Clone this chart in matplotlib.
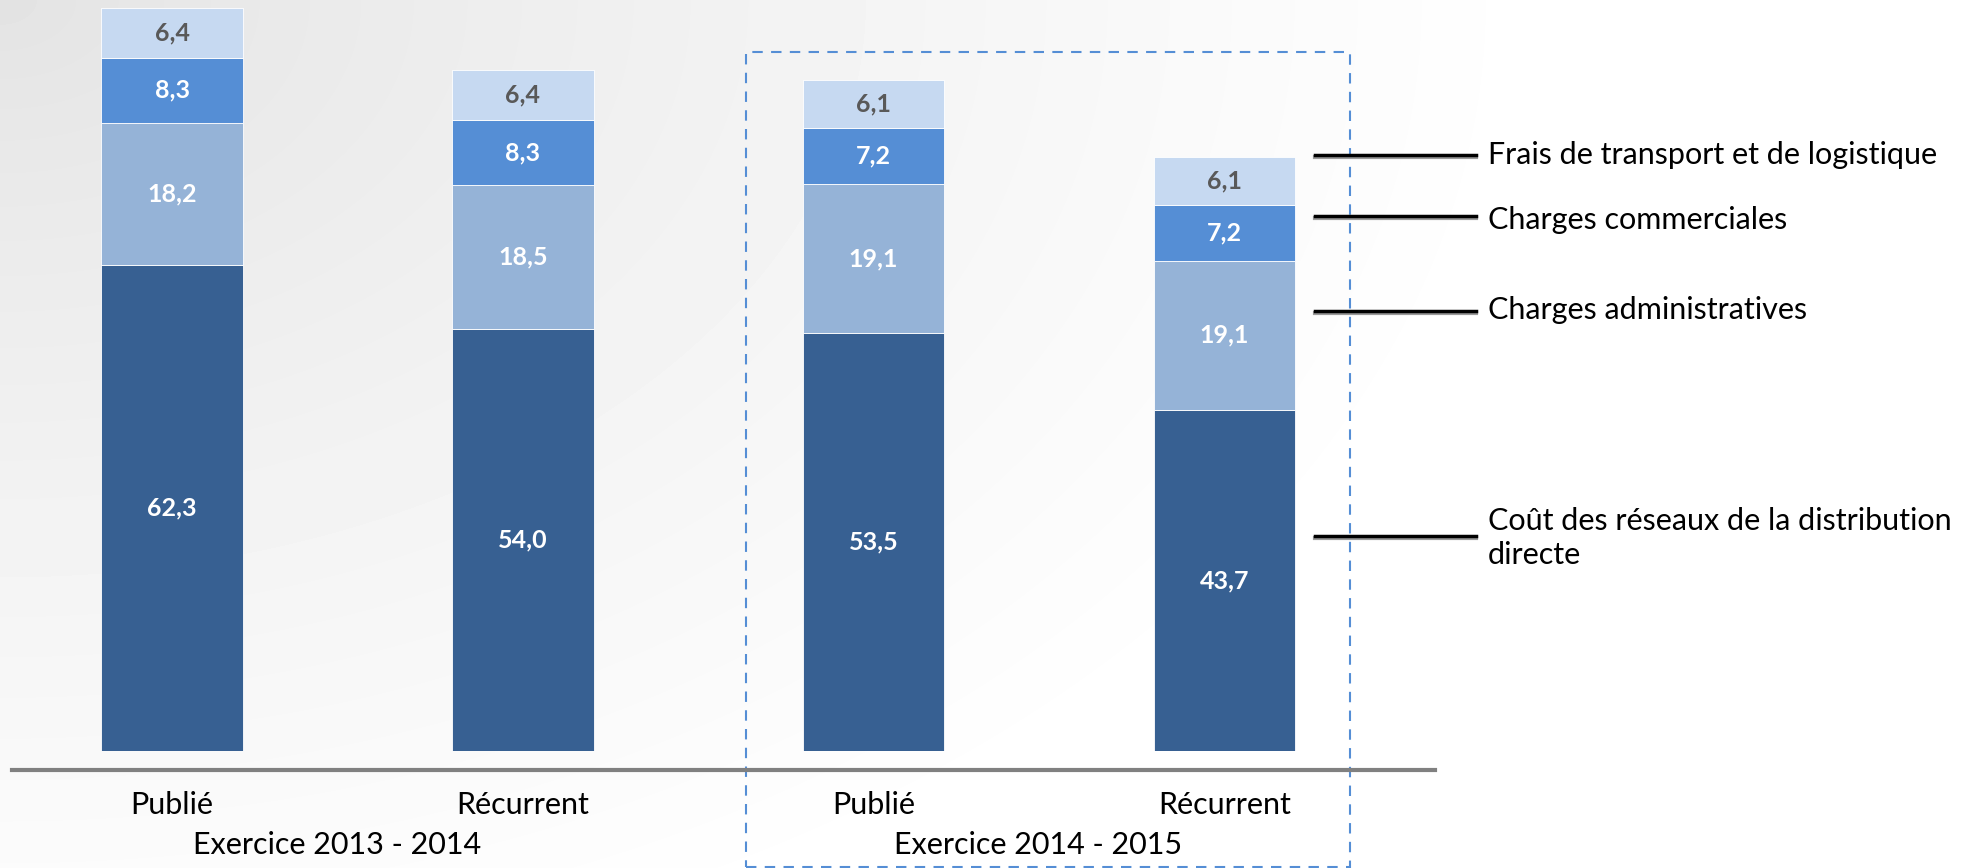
import numpy as np
import matplotlib.pyplot as plt
from matplotlib.lines import Line2D
from matplotlib.patches import Rectangle

# Data
categories = ['Publié', 'Récurrent', 'Publié', 'Récurrent']
groups = ['Exercice 2013 - 2014', 'Exercice 2014 - 2015']
series_names = ['Coût des réseaux de la distribution\ndirecte',
                'Charges administratives',
                'Charges commerciales',
                'Frais de transport et de logistique']
reseaux = [62.3, 54.0, 53.5, 43.7]
admin = [18.2, 18.5, 19.1, 19.1]
commercial = [8.3, 8.3, 7.2, 7.2]
transport = [6.4, 6.4, 6.1, 6.1]

colors = ['#376092', '#95B3D7', '#558ED5', '#C6D9F1']
label_colors = ['white', 'white', 'white', '#595959']

plt.rcParams['font.family'] = ['Lato', 'DejaVu Sans']

W, H = 1982, 868
fig = plt.figure(figsize=(W / 100, H / 100), dpi=100)

# radial grey-to-white background from the top-left corner
bg = fig.add_axes([0, 0, 1, 1], zorder=-10)
yy, xx = np.mgrid[0:H, 0:W]
d = np.sqrt(xx**2 + (yy * 1.5)**2) / 1550.0
shade = 0.89 + (1.0 - 0.89) * np.clip(d, 0, 1) ** 0.85
bg.imshow(shade, cmap='gray', vmin=0, vmax=1, aspect='auto',
          extent=[0, 1, 0, 1], origin='upper')
bg.axis('off')

# main axes: bottom of bars at 751 px, 1 unit = 350.8 px horizontally
ax = fig.add_axes([0, (H - 751) / H, 1, 751 / H])
ax.patch.set_alpha(0)
x = np.arange(len(categories))
unit = 350.8
ax.set_xlim(-172 / unit, (W - 172) / unit)
ax.set_ylim(0, 96.2)

series = [reseaux, admin, commercial, transport]
bottom = np.zeros(len(categories))
for vals, col, lc in zip(series, colors, label_colors):
    vals = np.array(vals)
    ax.bar(x, vals, bottom=bottom, width=0.404, color=col,
           edgecolor='white', linewidth=0.6)
    for xi, b, v in zip(x, bottom, vals):
        ax.text(xi, b + v / 2, f"{v:.1f}".replace('.', ','), ha='center',
                va='center', color=lc, fontsize=18, fontweight='bold')
    bottom += vals

for s in ax.spines.values():
    s.set_visible(False)
ax.set_yticks([])
ax.set_xticks(x)
ax.set_xticklabels(categories, fontsize=22)
ax.tick_params(axis='x', length=0, pad=29)

# group labels
for gi, g in enumerate(groups):
    ax.text(2 * gi + 0.47, -12.0, g, ha='center', va='center', fontsize=22)

# baseline
fig.add_artist(Line2D([12 / W, 1435 / W], [1 - 770 / H] * 2,
                      color='#808080', lw=3))

# dashed box around the second group
fig.add_artist(Rectangle((746 / W, 1 / H), (1350 - 746) / W, (867 - 52) / H,
                         fill=False, edgecolor='#558ED5', lw=1.5,
                         linestyle=(0, (5, 4))))

# leader lines and series labels on the right
leader_y = [536, 311, 216, 155]
text_y = [538, 310, 220, 155]
for name, ly, ty in zip(series_names, leader_y, text_y):
    fig.add_artist(Line2D([1315 / W, 1476 / W], [1 - (ly + 2) / H] * 2,
                          color='#9a9a9a', lw=3))
    fig.add_artist(Line2D([1315 / W, 1476 / W], [1 - ly / H] * 2,
                          color='black', lw=2.5))
    fig.text(1488 / W, 1 - ty / H, name, ha='left', va='center',
             fontsize=22, linespacing=1.3)

plt.savefig('out.png', dpi=100)
